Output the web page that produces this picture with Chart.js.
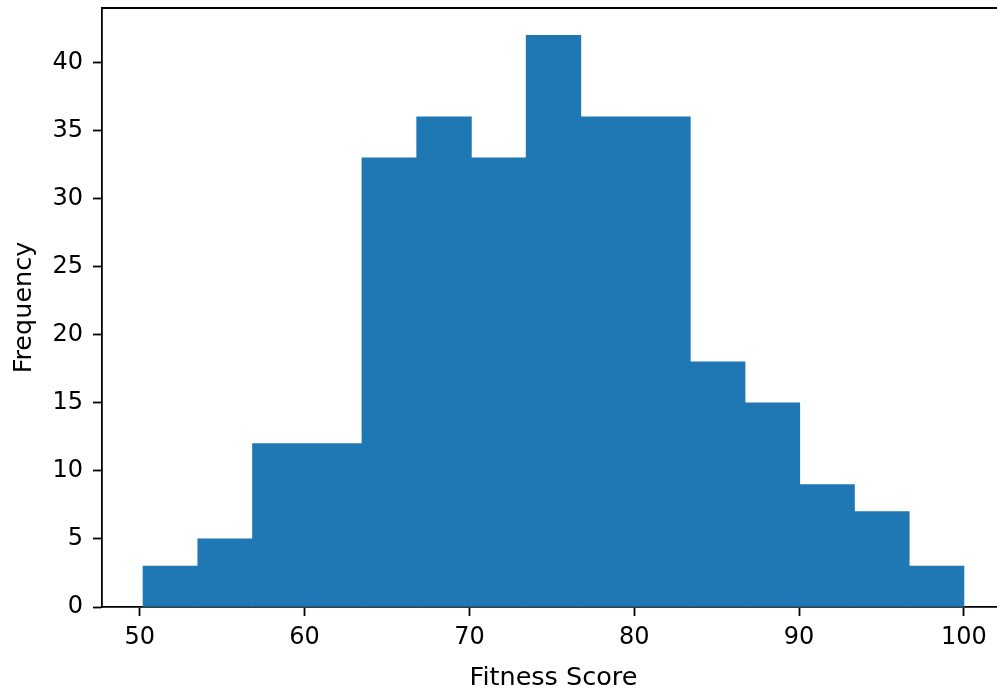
<!DOCTYPE html>
<html>
<head>
<meta charset="utf-8">
<script src="https://cdn.jsdelivr.net/npm/chart.js@4.4.0/dist/chart.umd.min.js"></script>
<style>
  html, body { margin: 0; padding: 0; background: #fff; overflow: hidden; }
  #wrap { width: 997px; height: 691px; overflow: hidden; }
</style>
</head>
<body>
<div id="wrap"><canvas id="histChart" width="1010" height="691"></canvas></div>
<script>
// histogram bins (edges) and counts per bin
const binEdges = [50.2, 53.52, 56.84, 60.16, 63.48, 66.8, 70.12, 73.44, 76.76, 80.08, 83.4, 86.72, 90.04, 93.36, 96.68, 100.0];
const binCounts = [3, 5, 12, 12, 33, 36, 33, 42, 36, 36, 18, 15, 9, 7, 3];
const xTicks = [50, 60, 70, 80, 90, 100];
const yTicks = [0, 5, 10, 15, 20, 25, 30, 35, 40];

const FONT = "'DejaVu Sans', sans-serif";

// top and right spines, matplotlib style box
const framePlugin = {
    id: 'frame',
    afterDraw(chart) {
        const { ctx, chartArea } = chart;
        ctx.save();
        ctx.strokeStyle = '#000';
        ctx.lineWidth = 1.8;
        ctx.beginPath();
        ctx.moveTo(chartArea.left, chartArea.top);
        ctx.lineTo(chartArea.right, chartArea.top);
        ctx.lineTo(chartArea.right, chartArea.bottom);
        ctx.stroke();
        ctx.restore();
    }
};

document.addEventListener('DOMContentLoaded', () => {
    const points = binCounts.map((c, i) => ({ x: (binEdges[i] + binEdges[i + 1]) / 2, y: c }));

    const ctx = document.getElementById('histChart').getContext('2d');
    new Chart(ctx, {
        type: 'bar',
        data: {
            datasets: [{
                label: 'Fitness Score',
                data: points,
                backgroundColor: '#1f77b4',
                borderWidth: 0,
                barPercentage: 1,
                categoryPercentage: 1,
            }]
        },
        plugins: [framePlugin],
        options: {
            responsive: false,
            animation: false,
            layout: { padding: { top: 8, right: 5, left: 0, bottom: 0 } },
            plugins: { legend: { display: false }, tooltip: { enabled: false } },
            scales: {
                x: {
                    type: 'linear',
                    min: 47.71,
                    max: 102.49,
                    offset: false,
                    afterBuildTicks: s => { s.ticks = xTicks.map(v => ({ value: v })); },
                    afterFit: s => { s.height = 84; s.paddingLeft = 0; s.paddingRight = 0; },
                    grid: { drawOnChartArea: false, offset: false, tickLength: 9, tickWidth: 1.8, tickColor: '#000' },
                    border: { display: true, color: '#000', width: 1.8 },
                    ticks: { color: '#000', font: { family: FONT, size: 24 }, padding: 7, maxRotation: 0 },
                    title: { display: true, text: 'Fitness Score', color: '#000', font: { family: FONT, size: 25.5, lineHeight: 1.0 }, padding: { top: 0, bottom: 0 } }
                },
                y: {
                    min: 0,
                    max: 44.0,
                    afterBuildTicks: s => { s.ticks = yTicks.map(v => ({ value: v })); },
                    afterFit: s => { s.width = 102; s.paddingTop = 0; s.paddingBottom = 0; },
                    grid: { drawOnChartArea: false, tickLength: 9, tickWidth: 1.8, tickColor: '#000' },
                    border: { display: true, color: '#000', width: 1.8 },
                    ticks: { color: '#000', font: { family: FONT, size: 24 }, padding: 10 },
                    title: { display: true, text: 'Frequency', color: '#000', font: { family: FONT, size: 25.5 }, padding: { top: 9, bottom: 0 } }
                }
            }
        }
    });
});
</script>
</body>
</html>
